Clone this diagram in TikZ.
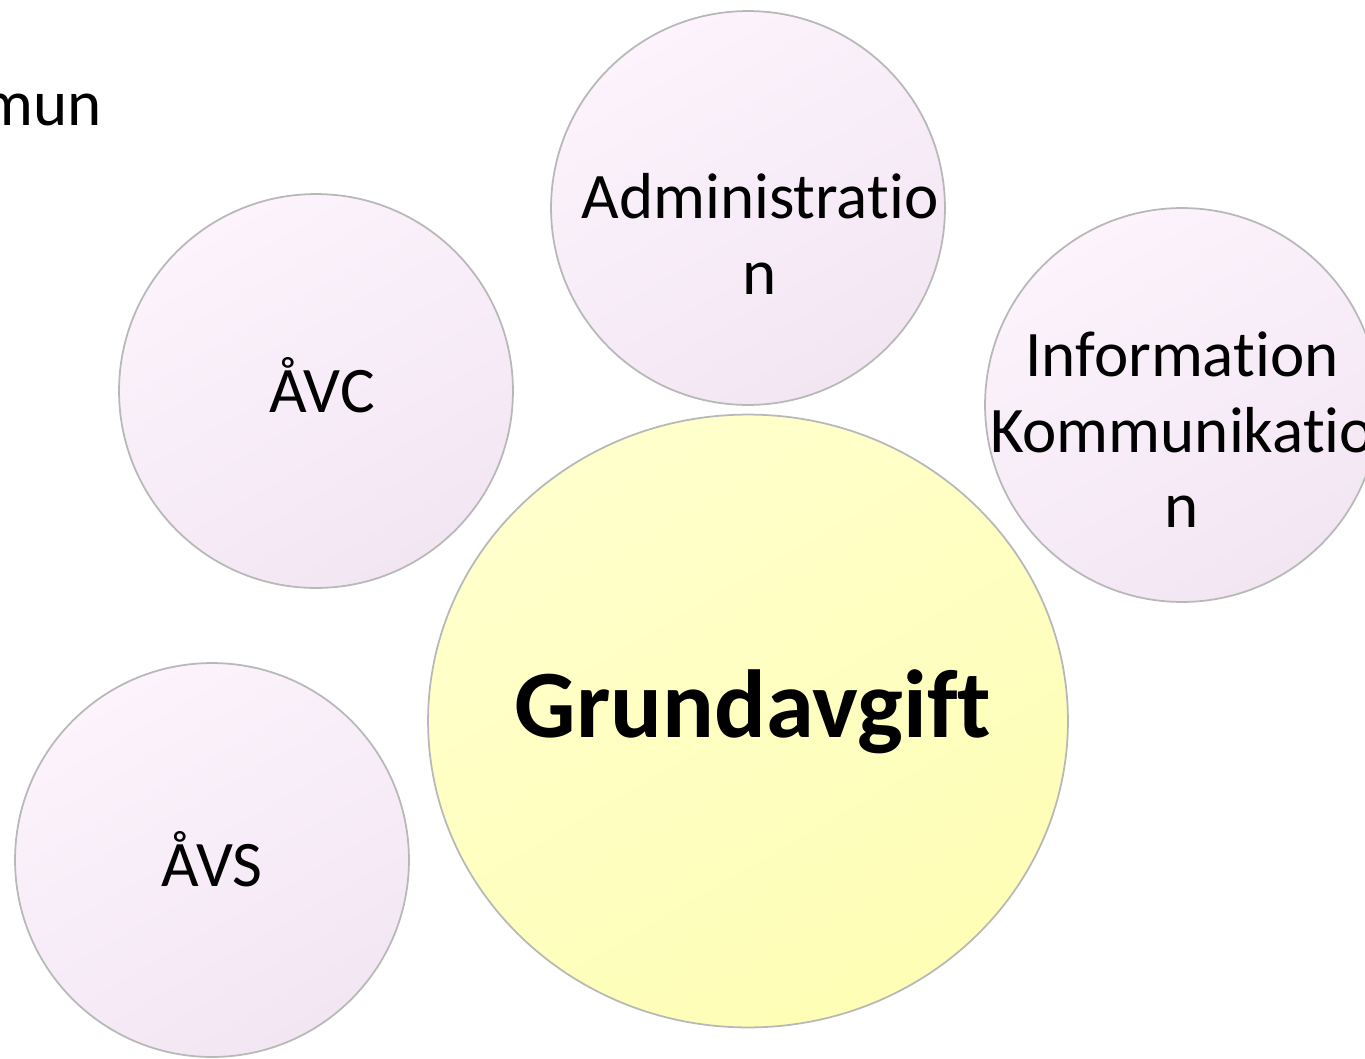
\documentclass[tikz,border=0pt]{standalone}
\usepackage{fontspec}
\setmainfont{Carlito}[Ligatures = NoCommon]
\usetikzlibrary{shapes.geometric}
\definecolor{bubbleline}{HTML}{B8B8B8}
\definecolor{pinklight}{HTML}{FCF3FC}
\definecolor{pinkdark}{HTML}{F2E6F3}
\definecolor{yellowlight}{HTML}{FFFFCC}
\definecolor{yellowdark}{HTML}{FEFEB6}

\begin{document}
\begin{tikzpicture}[x = 0.02cm, y = -0.02cm,
    bubble/.style = {circle,
    draw = bubbleline,
    line width = 1pt,
    minimum size = 7.88cm,
    shading = axis,
    top color = pinklight,
    bottom color = pinkdark,
    shading angle = 30},
    label/.style = {align = center,
    font = \fontsize{37}{43}\selectfont}]
    \useasboundingbox (0,0) rectangle (1365,1058);
    \clip (0,0) rectangle (1365,1058);
    \node [bubble] (adm) at (748,208) {};
    \node [bubble] (avc) at (316,391) {};
    \node [bubble] (info) at (1182,405) {};
    \node [bubble] (avs) at (212,860) {};
    \node [ellipse,
    draw = bubbleline,
    line width = 1pt,
    minimum width = 12.8cm,
    minimum height = 12.26cm,
    shading = axis,
    top color = yellowlight,
    bottom color = yellowdark,
    shading angle = 30] (grund) at (748,721) {};
    \node [label] (admtext) at (760,234) {Administratio\\n};
    \node [label] (infotext) at (1182,430) {Information\\Kommunikatio\\n};
    \node [label, anchor = base] (avctext) at (322,412) {ÅVC};
    \node [label, anchor = base] (avstext) at (212,886) {ÅVS};
    \node [anchor = base, font = \fontsize{55}{66}\selectfont\bfseries]
    (grundtext) at (753,737) {Grundavgift};
    \node [label, anchor = base east, inner sep = 0pt] (muntext) at (102,125) {mun};
  \end{tikzpicture}
\end{document}
